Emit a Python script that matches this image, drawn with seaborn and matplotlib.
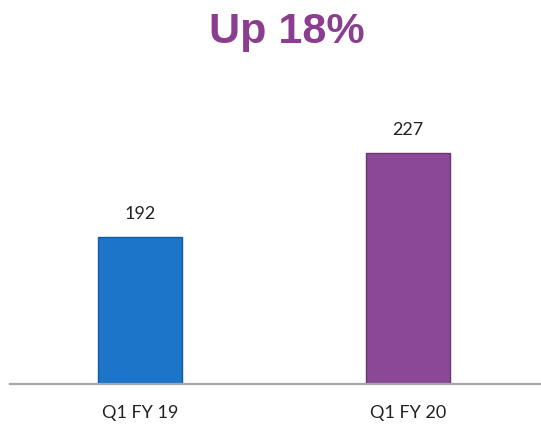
import matplotlib
matplotlib.use("Agg")
import matplotlib.pyplot as plt
import seaborn as sns
import pandas as pd

quarters = ['Q1 FY 19', 'Q1 FY 20']
values = [192, 227]
bar_colors = ['#1C75C8', '#8B4896']
edge_colors = ['#155a9a', '#6a3573']
title_text = 'Up 18%'

sns.set_style('white')
plt.rcParams['font.family'] = ['Lato', 'DejaVu Sans']

df = pd.DataFrame({'quarter': quarters, 'value': values})

fig = plt.figure(figsize=(5.41, 4.38), dpi=100)
ax = fig.add_axes([10 / 541, 1 - 384 / 438, 531 / 541, (384 - 98) / 438])

sns.barplot(data=df, x='quarter', y='value', hue='quarter', palette=bar_colors,
            saturation=1, width=0.313, legend=False, ax=ax)

ax.set_ylim(131, 250)
ax.set_xlim(-0.485, 1.496)
for p, v, ec in zip(ax.patches, values, edge_colors):
    p.set_edgecolor(ec)
    p.set_linewidth(1.0)
    ax.text(p.get_x() + p.get_width() / 2, v + 6.5, str(v), ha='center', va='bottom',
            fontsize=13, color='#222222')

sns.despine(ax=ax, left=True, top=True, right=True)
ax.spines['bottom'].set_color('#a6a6a6')
ax.spines['bottom'].set_linewidth(1.6)
ax.set_yticks([])
ax.set_xlabel('')
ax.set_ylabel('')
ax.tick_params(axis='x', length=0, pad=15, labelsize=13, labelcolor='#222222')

fig.text(0.531, 0.928, title_text, ha='center', va='center', fontsize=31,
         fontweight='bold', color='#8B3E8F', family=['Liberation Sans', 'DejaVu Sans'])

fig.savefig('out.png', dpi=100)
